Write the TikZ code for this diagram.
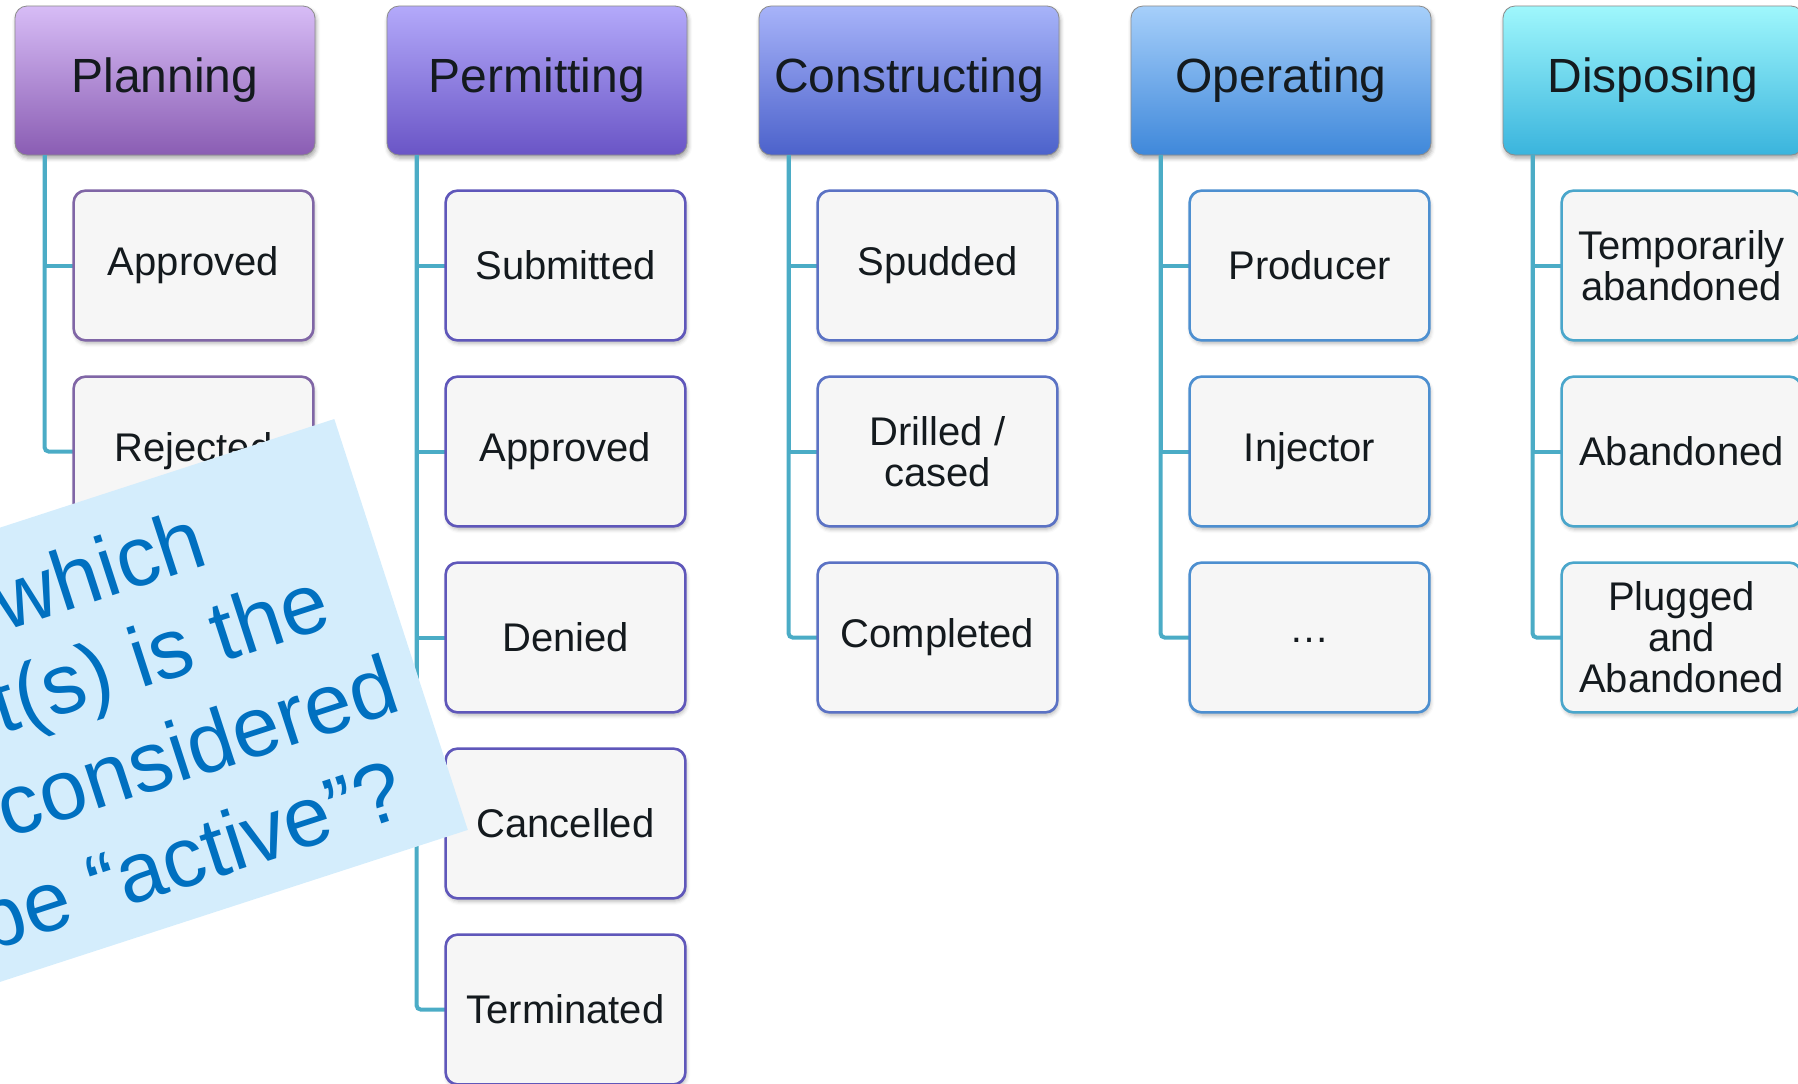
\documentclass[tikz,border=0pt]{standalone}
\usepackage{fontspec}
\setmainfont{Liberation Sans}
\usetikzlibrary{shadows.blur}

\definecolor{ink}{HTML}{141A1E}
\definecolor{link}{HTML}{4BACC6}
\definecolor{cardfill}{HTML}{F6F6F6}
\definecolor{noteback}{HTML}{D4EDFC}
\definecolor{notetext}{HTML}{0070C0}
% header gradients
\definecolor{planT}{HTML}{D7BCF6}\definecolor{planB}{HTML}{8A5DB3}
\definecolor{permT}{HTML}{B3A9FA}\definecolor{permB}{HTML}{6A55C6}
\definecolor{consT}{HTML}{A7B3F9}\definecolor{consB}{HTML}{4C62CB}
\definecolor{operT}{HTML}{A6CFFA}\definecolor{operB}{HTML}{3F88DA}
\definecolor{dispT}{HTML}{9FF7FC}\definecolor{dispB}{HTML}{3AB4DD}
% card outlines
\definecolor{planE}{HTML}{8066A6}
\definecolor{permE}{HTML}{5F57BA}
\definecolor{consE}{HTML}{5B72C4}
\definecolor{operE}{HTML}{4D8FD0}
\definecolor{dispE}{HTML}{4AA6CB}

\begin{document}
\begin{tikzpicture}[x=0.5pt,y=-0.5pt,
  phase/.style={rounded corners=6pt, inner sep=0pt,
    minimum width=150pt, minimum height=74.5pt,
    draw=black!45, line width=0.4pt, text=ink,
    font=\fontsize{24}{28}\selectfont,
    blur shadow={shadow xshift=0.6pt, shadow yshift=-1.6pt,
      shadow blur radius=2pt, shadow opacity=35}},
  card/.style={rounded corners=6pt, inner sep=0pt,
    minimum width=119.5pt, minimum height=74.5pt,
    draw=#1, line width=0.8pt, fill=cardfill, text=ink,
    align=center, font=\fontsize{20}{20.5}\selectfont,
    blur shadow={shadow xshift=0.6pt, shadow yshift=-1.6pt,
      shadow blur radius=2pt, shadow opacity=30}},
  conn/.style={draw=link, line width=2pt},
  notetxt/.style={anchor=base east, rotate=18, inner sep=0pt,
    text=notetext, font=\fontsize{42.5}{49}\selectfont}]

\useasboundingbox (0,0) rectangle (1798,1083);
\clip (0,0) rectangle (1798,1083);

% ---------- phase headers ----------
\node[phase, top color=planT, bottom color=planB] (h1) at (165,80.5)  {Planning};
\node[phase, top color=permT, bottom color=permB] (h2) at (537,80.5)  {Permitting};
\node[phase, top color=consT, bottom color=consB] (h3) at (909,80.5)  {Constructing};
\node[phase, top color=operT, bottom color=operB] (h4) at (1281,80.5) {Operating};
\node[phase, top color=dispT, bottom color=dispB] (h5) at (1653,80.5) {Disposing};

% ---------- Planning ----------
\node[card=planE] (p1) at (193.5,265.5) {Approved};
\node[card=planE] (p2) at (193.5,451.5) {Rejected};

% ---------- Permitting ----------
\node[card=permE] (m1) at (565.5,265.5) {Submitted};
\node[card=permE] (m2) at (565.5,451.5) {Approved};
\node[card=permE] (m3) at (565.5,637.5) {Denied};
\node[card=permE] (m4) at (565.5,823.5) {Cancelled};
\node[card=permE] (m5) at (565.5,1009.5) {Terminated};

% ---------- Constructing ----------
\node[card=consE] (k1) at (937.5,265.5) {Spudded};
\node[card=consE] (k2) at (937.5,451.5) {Drilled /\\cased};
\node[card=consE] (k3) at (937.5,637.5) {Completed};

% ---------- Operating ----------
\node[card=operE] (o1) at (1309.5,265.5) {Producer};
\node[card=operE] (o2) at (1309.5,451.5) {Injector};
\node[card=operE] (o3) at (1309.5,637.5) {\raisebox{-4.5pt}{…}};

% ---------- Disposing ----------
\node[card=dispE] (d1) at (1681.5,265.5) {Temporarily\\abandoned};
\node[card=dispE] (d2) at (1681.5,451.5) {Abandoned};
\node[card=dispE] (d3) at (1681.5,637.5) {Plugged\\and\\Abandoned};

% ---------- tree connectors ----------
\foreach \h/\kids/\last in {h1/p1/p2, h2/{m1,m2,m3,m4}/m5, h3/{k1,k2}/k3,
                            h4/{o1,o2}/o3, h5/{d1,d2}/d3}{
  \foreach \c in \kids
    \draw[conn] ([xshift=15pt]\h.south west) |- (\c.west);
  \draw[conn, rounded corners=2pt] ([xshift=15pt]\h.south west) |- (\last.west);
}
% keep card outlines above the connector ends
\foreach \c/\e in {p1/planE,p2/planE,m1/permE,m2/permE,m3/permE,m4/permE,m5/permE,
                   k1/consE,k2/consE,k3/consE,o1/operE,o2/operE,o3/operE,
                   d1/dispE,d2/dispE,d3/dispE}
  \draw[draw=\e, line width=0.8pt, rounded corners=6pt]
    (\c.south west) rectangle (\c.north east);

% ---------- tilted question note ----------
\fill[noteback] (334.3,419) -- (467.8,829.9) -- (-197.9,1046.2) -- (-331.4,635.3) -- cycle;
\node[notetxt] (q1) at (211.2,564.1) {which};
\node[notetxt] (q2) at (334.4,626.0) {t(s) is the};
\node[notetxt] (q3) at (403.6,709.8) {considered};
\node[notetxt] (q4) at (410.3,814.8) {be “active”?};

\end{tikzpicture}
\end{document}
